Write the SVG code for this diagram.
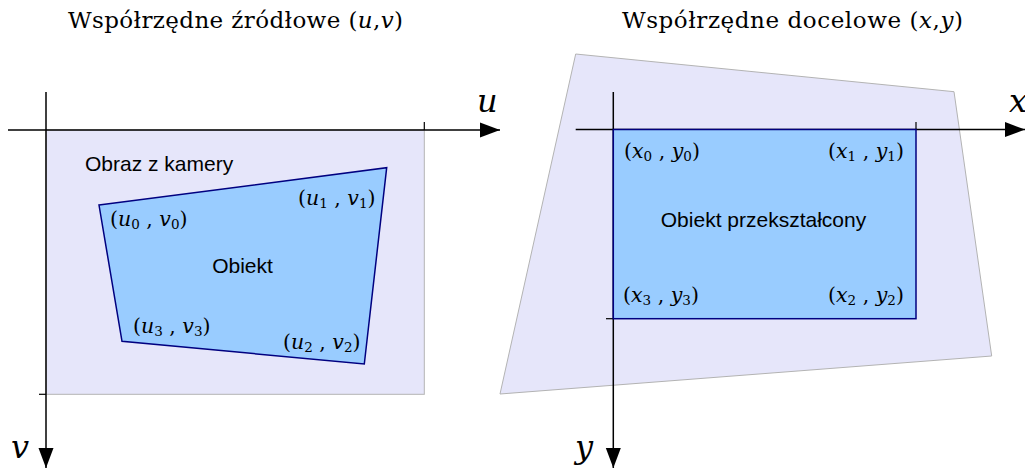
<svg xmlns="http://www.w3.org/2000/svg" width="1025" height="468" viewBox="0 0 1025 468">
<defs>
<marker id="arr" markerUnits="userSpaceOnUse" markerWidth="22" markerHeight="17" viewBox="-21 -8.5 22 17" refX="0" refY="0" orient="auto">
<path d="M-20,-7.5 L0,0 L-20,7.5 Z" fill="#000"/>
</marker>
</defs>
<style>
.ttl{font-family:"DejaVu Serif",serif;font-size:23px;fill:#000}
.math{font-family:"DejaVu Serif",serif;font-size:20.5px;fill:#000}
.it{font-style:italic}
.sub{font-size:13.5px}
.axl{font-family:"DejaVu Serif",serif;font-style:italic;font-size:32px;fill:#000}
.lbl{font-family:"Liberation Sans",Arial,sans-serif;font-size:21px;fill:#000}
.bg{fill:#e6e6fa;stroke:#b3b3b3;stroke-width:1}
.obj{fill:#99ccff;stroke:#000080;stroke-width:1.5}
.axis{stroke:#000;stroke-width:1.5;fill:none}
.tick{stroke:#000;stroke-width:1.2;fill:none}
</style>
<rect width="1025" height="468" fill="#fff"/>

<!-- titles -->
<text class="ttl" x="68" y="28" textLength="335" lengthAdjust="spacing">Współrzędne źródłowe (<tspan class="it">u</tspan>,<tspan class="it">v</tspan>)</text>
<text class="ttl" x="622" y="28" textLength="341" lengthAdjust="spacing">Współrzędne docelowe (<tspan class="it">x</tspan>,<tspan class="it">y</tspan>)</text>

<!-- left panel background -->
<g id="camera-image">
<rect class="bg" x="46" y="130" width="378.3" height="264.3"/>
<text class="lbl" x="85" y="171">Obraz z kamery</text>
</g>

<!-- right panel background -->
<g id="target-area">
<polygon class="bg" points="575.7,54 954,91.7 991.7,356 500,394"/>
</g>

<!-- axes -->
<g id="connectors">
<line class="axis" x1="8" y1="130" x2="500" y2="130" marker-end="url(#arr)"/>
<line class="axis" x1="46" y1="92" x2="46" y2="468" marker-end="url(#arr)"/>
<line class="tick" x1="424.3" y1="122" x2="424.3" y2="130"/>
<line class="tick" x1="39" y1="394.3" x2="46" y2="394.3"/>
<line class="axis" x1="575.7" y1="129.5" x2="1025" y2="129.5" marker-end="url(#arr)"/>
<line class="axis" x1="613.3" y1="92" x2="613.3" y2="468" marker-end="url(#arr)"/>
<line class="tick" x1="916" y1="122" x2="916" y2="129.5"/>
<line class="tick" x1="606" y1="318.7" x2="613.3" y2="318.7"/>
</g>

<g id="axis-labels">
<text class="axl" x="477" y="112">u</text>
<text class="axl" x="11" y="458">v</text>
<text class="axl" x="1009" y="112">x</text>
<text class="axl" x="575" y="458">y</text>
</g>

<!-- source object -->
<g id="object">
<polygon class="obj" points="99,205 386.7,167.7 364.3,364 122,341.3"/>
<text class="lbl" x="242.5" y="273" text-anchor="middle">Obiekt</text>
<text class="math" x="110" y="226">(<tspan class="it">u</tspan><tspan class="sub" dy="3">0</tspan><tspan dy="-3"> , </tspan><tspan class="it">v</tspan><tspan class="sub" dy="3">0</tspan><tspan dy="-3">)</tspan></text>
<text class="math" x="298" y="205">(<tspan class="it">u</tspan><tspan class="sub" dy="3">1</tspan><tspan dy="-3"> , </tspan><tspan class="it">v</tspan><tspan class="sub" dy="3">1</tspan><tspan dy="-3">)</tspan></text>
<text class="math" x="133" y="333">(<tspan class="it">u</tspan><tspan class="sub" dy="3">3</tspan><tspan dy="-3"> , </tspan><tspan class="it">v</tspan><tspan class="sub" dy="3">3</tspan><tspan dy="-3">)</tspan></text>
<text class="math" x="283" y="349">(<tspan class="it">u</tspan><tspan class="sub" dy="3">2</tspan><tspan dy="-3"> , </tspan><tspan class="it">v</tspan><tspan class="sub" dy="3">2</tspan><tspan dy="-3">)</tspan></text>
</g>

<!-- transformed object -->
<g id="transformed-object">
<rect class="obj" x="613.3" y="129.5" width="302.7" height="189.2"/>
<text class="lbl" x="763.5" y="227" text-anchor="middle">Obiekt przekształcony</text>
<text class="math" x="624" y="158">(<tspan class="it">x</tspan><tspan class="sub" dy="3">0</tspan><tspan dy="-3"> , </tspan><tspan class="it">y</tspan><tspan class="sub" dy="3">0</tspan><tspan dy="-3">)</tspan></text>
<text class="math" x="828" y="158">(<tspan class="it">x</tspan><tspan class="sub" dy="3">1</tspan><tspan dy="-3"> , </tspan><tspan class="it">y</tspan><tspan class="sub" dy="3">1</tspan><tspan dy="-3">)</tspan></text>
<text class="math" x="623" y="302">(<tspan class="it">x</tspan><tspan class="sub" dy="3">3</tspan><tspan dy="-3"> , </tspan><tspan class="it">y</tspan><tspan class="sub" dy="3">3</tspan><tspan dy="-3">)</tspan></text>
<text class="math" x="828" y="302">(<tspan class="it">x</tspan><tspan class="sub" dy="3">2</tspan><tspan dy="-3"> , </tspan><tspan class="it">y</tspan><tspan class="sub" dy="3">2</tspan><tspan dy="-3">)</tspan></text>
</g>
</svg>
